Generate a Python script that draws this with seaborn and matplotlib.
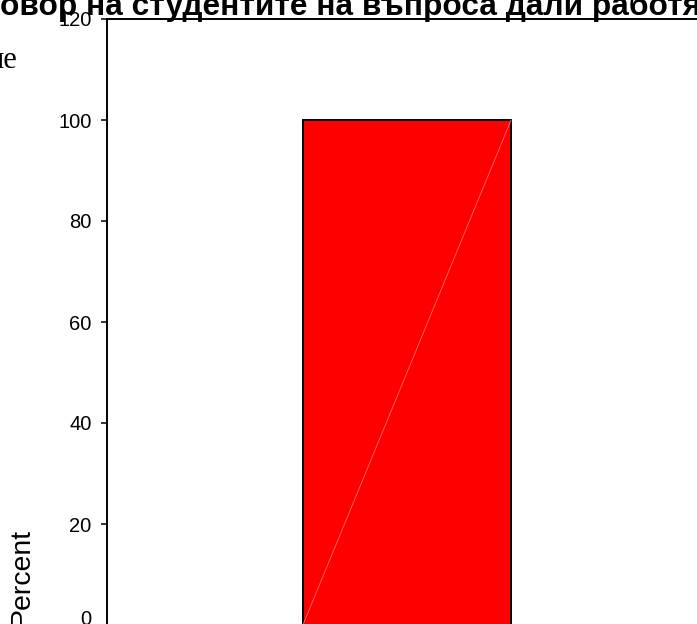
import matplotlib
matplotlib.use("Agg")
import matplotlib.pyplot as plt
import seaborn as sns
import pandas as pd

# ----------------------------------------------------
# Dados
# ----------------------------------------------------
categorias = ['Да']
percentual = [100.0]
yticks = [0, 20, 40, 60, 80, 100, 120]

titulo = 'овор на студентите на въпроса дали работят'
texto_lateral = 'ие'
rotulo_y = 'Percent'

df = pd.DataFrame({'cat': categorias, 'pct': percentual})

sns.set_style("ticks")
plt.rcParams['font.family'] = ['Liberation Sans', 'DejaVu Sans']

W, H = 697, 624
fig = plt.figure(figsize=(W / 100, H / 100), dpi=100)
# eixo: esquerda em x=107px, 120 em y=19px, 0 logo abaixo da borda
ax = fig.add_axes([107 / W, -1 / H, 600 / W, 606 / H])

sns.barplot(data=df, x='cat', y='pct', color='#ff0000', saturation=1,
            width=0.347, edgecolor='black', linewidth=1.4, ax=ax)

# linha diagonal clara dentro da barra
p = ax.patches[0]
x0 = p.get_x()
x1 = x0 + p.get_width()
ax.plot([x0, x1], [0, p.get_height()], color='#ff7070', lw=0.6, zorder=3)

ax.set_ylim(yticks[0], yticks[-1])
ax.set_xlim(-0.5, 0.5)
ax.set_yticks(yticks)
ax.set_xticks([])
ax.set_xlabel('')
ax.set_ylabel('')

for s in ['left', 'top', 'right']:
    ax.spines[s].set_linewidth(1.4)
    ax.spines[s].set_color('black')
ax.spines['bottom'].set_visible(False)

ax.tick_params(axis='y', direction='out', length=4.5, width=1.1,
               labelsize=14.5, pad=6.5, colors='black')
ax.yaxis.get_major_ticks()[0].label1.set_va('baseline')

# título cortado no topo
fig.text(0, 1 - 15 / H, titulo, fontsize=22.8, fontweight='bold',
         ha='left', va='baseline', color='black')

# texto serifado à esquerda
fig.text(17 / W, 1 - 68 / H, texto_lateral, fontsize=22,
         family=['Liberation Serif', 'DejaVu Serif'],
         ha='right', va='baseline', color='black')

# rótulo do eixo y
fig.text(22 / W, -2 / H, rotulo_y, fontsize=20.5, rotation=90,
         ha='center', va='bottom', color='black')

fig.savefig('out.png', dpi=100)
plt.close(fig)
